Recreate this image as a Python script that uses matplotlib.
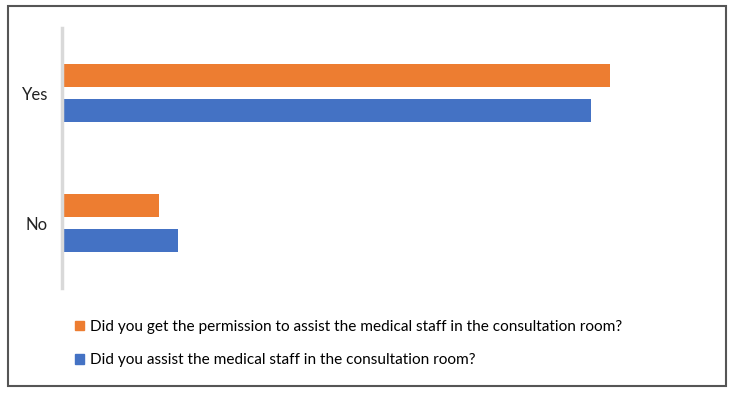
import numpy as np
import matplotlib.pyplot as plt
from matplotlib.patches import Rectangle, Patch

plt.rcParams['font.family'] = ['Lato', 'DejaVu Sans']

# datos (porcentaje)
categories = ['No', 'Yes']
permission = [15, 85]   # Did you get the permission ...
assisted = [18, 82]     # Did you assist ...
labels = ['Did you get the permission to assist the medical staff in the consultation room?',
          'Did you assist the medical staff in the consultation room?']

orange = '#ED7D31'
blue = '#4472C4'

fig = plt.figure(figsize=(7.34, 3.93), dpi=100)
ax = fig.add_axes([62/734, 1 - 288/393, 645/734, 260/393])

y = np.arange(len(categories))
h = 0.177
off = 0.137
ax.barh(y + off, permission, height=h, color=orange)
ax.barh(y - off, assisted, height=h, color=blue)

ax.set_xlim(0, 100)
ax.set_ylim(-0.5, 1.5)
ax.set_yticks(y)
ax.set_yticklabels(categories, fontsize=12, color='#222222')
ax.tick_params(axis='y', length=0, pad=10)
ax.set_xticks([])
for s in ['top', 'right', 'bottom']:
    ax.spines[s].set_visible(False)
ax.spines['left'].set_color('#D9D9D9')
ax.spines['left'].set_linewidth(2.5)

handles = [Patch(color=orange), Patch(color=blue)]
fig.legend(handles, labels, loc='upper left', bbox_to_anchor=(75/734, 1 - 320/393),
           frameon=False, fontsize=11.1, handlelength=0.6, handleheight=0.6,
           handletextpad=0.35, labelspacing=1.25, borderaxespad=0, borderpad=0)

# marco exterior
fig.patches.append(Rectangle((8/734, 1 - 386/393), 718/734, 380/393, transform=fig.transFigure,
                             fill=False, edgecolor='#555555', linewidth=1.5))

fig.savefig('out.png', dpi=100)
